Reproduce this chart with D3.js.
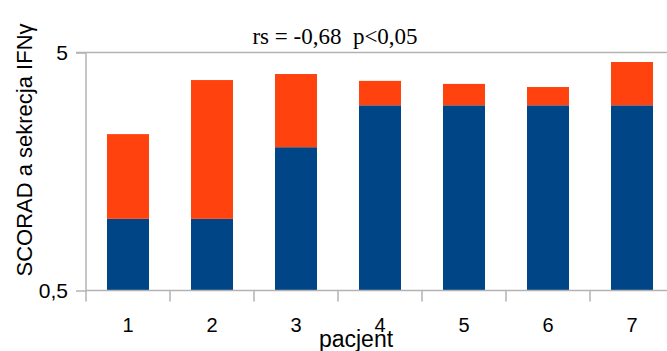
<!DOCTYPE html>
<html>
<head>
<meta charset="utf-8">
<script src="https://cdn.jsdelivr.net/npm/d3@7"></script>
<style>
  html, body { margin: 0; padding: 0; background: #fff; }
  svg { display: block; }
</style>
</head>
<body>
<svg id="chart" width="667" height="351"></svg>
<script>
// Patients and the two stacked components (log-scaled value axis)
const patients = ["1", "2", "3", "4", "5", "6", "7"];
const seriesBlue = [1.0, 1.0, 2.0, 3.0, 3.0, 3.0, 3.0];
const seriesOrange = [1.27, 2.83, 2.06, 0.8, 0.69, 0.58, 1.56];
const yTicks = [0.5, 5];
const yTickLabels = ["0,5", "5"];
const titleText = "rs = -0,68  p<0,05";
const yTitle = "SCORAD a sekrecja IFNγ";
const xTitle = "pacjent";

const svg = d3.select("#chart");
const plot = { left: 86, right: 674, top: 52.5, bottom: 290.5 };
const gridColor = "#b3b3b3";
const sans = "Liberation Sans, Arial, sans-serif";

const rows = patients.map((p, i) => ({ p, blue: seriesBlue[i], orange: seriesOrange[i] }));
const stacked = d3.stack().keys(["blue", "orange"])(rows);

const x = d3.scaleBand().domain(patients).range([plot.left, plot.right]).paddingInner(0.5).paddingOuter(0.25);
const xTickScale = d3.scaleBand().domain(patients).range([plot.left, plot.right]);
const y = d3.scaleLog().domain([0.5, 5]).range([plot.bottom, plot.top]);

// horizontal grid line at the top tick
svg.append("line")
  .attr("x1", plot.left - 10).attr("x2", 667)
  .attr("y1", y(5)).attr("y2", y(5))
  .attr("stroke", gridColor).attr("stroke-width", 1.5);

// bars
const colors = { blue: "#004586", orange: "#ff420e" };
svg.append("g").selectAll("g")
  .data(stacked).join("g")
  .attr("fill", d => colors[d.key])
  .selectAll("rect")
  .data(d => d).join("rect")
  .attr("x", d => x(d.data.p))
  .attr("width", x.bandwidth())
  .attr("y", d => y(d[1]))
  .attr("height", d => y(Math.max(d[0], 0.5)) - y(d[1]));

// y axis
const yAxis = d3.axisLeft(y).tickValues(yTicks)
  .tickFormat((d, i) => yTickLabels[i]).tickSizeInner(10).tickSizeOuter(0).tickPadding(8);
const gy = svg.append("g").attr("transform", `translate(${plot.left},0)`).call(yAxis);
gy.select(".domain").remove();
gy.selectAll(".tick line").attr("stroke", gridColor).attr("stroke-width", 1.5);
gy.selectAll(".tick text").attr("font-family", sans)
  .attr("font-size", 21).attr("fill", "#000");
svg.append("line")
  .attr("x1", plot.left).attr("x2", plot.left)
  .attr("y1", plot.top).attr("y2", plot.bottom + 11)
  .attr("stroke", gridColor).attr("stroke-width", 1.5);

// x axis
svg.append("line")
  .attr("x1", plot.left).attr("x2", 667)
  .attr("y1", plot.bottom).attr("y2", plot.bottom)
  .attr("stroke", gridColor).attr("stroke-width", 1.5);
const gx = svg.append("g");
gx.selectAll("line.xt")
  .data(patients.slice(1)).join("line")
  .attr("x1", d => xTickScale(d)).attr("x2", d => xTickScale(d))
  .attr("y1", plot.bottom).attr("y2", plot.bottom + 11)
  .attr("stroke", gridColor).attr("stroke-width", 1.5);
gx.selectAll("text")
  .data(patients).join("text")
  .attr("x", d => x(d) + x.bandwidth() / 2)
  .attr("y", 332)
  .attr("text-anchor", "middle")
  .attr("font-family", sans)
  .attr("font-size", 20)
  .text(d => d);

// titles
svg.append("text")
  .attr("x", 335).attr("y", 44)
  .attr("text-anchor", "middle")
  .attr("font-family", "Liberation Serif, Times New Roman, serif")
  .attr("font-size", 23)
  .style("white-space", "pre")
  .text(titleText);

svg.append("text")
  .attr("transform", "translate(32,150) rotate(-90)")
  .attr("text-anchor", "middle")
  .attr("font-family", sans)
  .attr("font-size", 22)
  .text(yTitle);

svg.append("text")
  .attr("x", 356).attr("y", 347)
  .attr("text-anchor", "middle")
  .attr("font-family", sans)
  .attr("font-size", 23)
  .text(xTitle);
</script>
</body>
</html>
